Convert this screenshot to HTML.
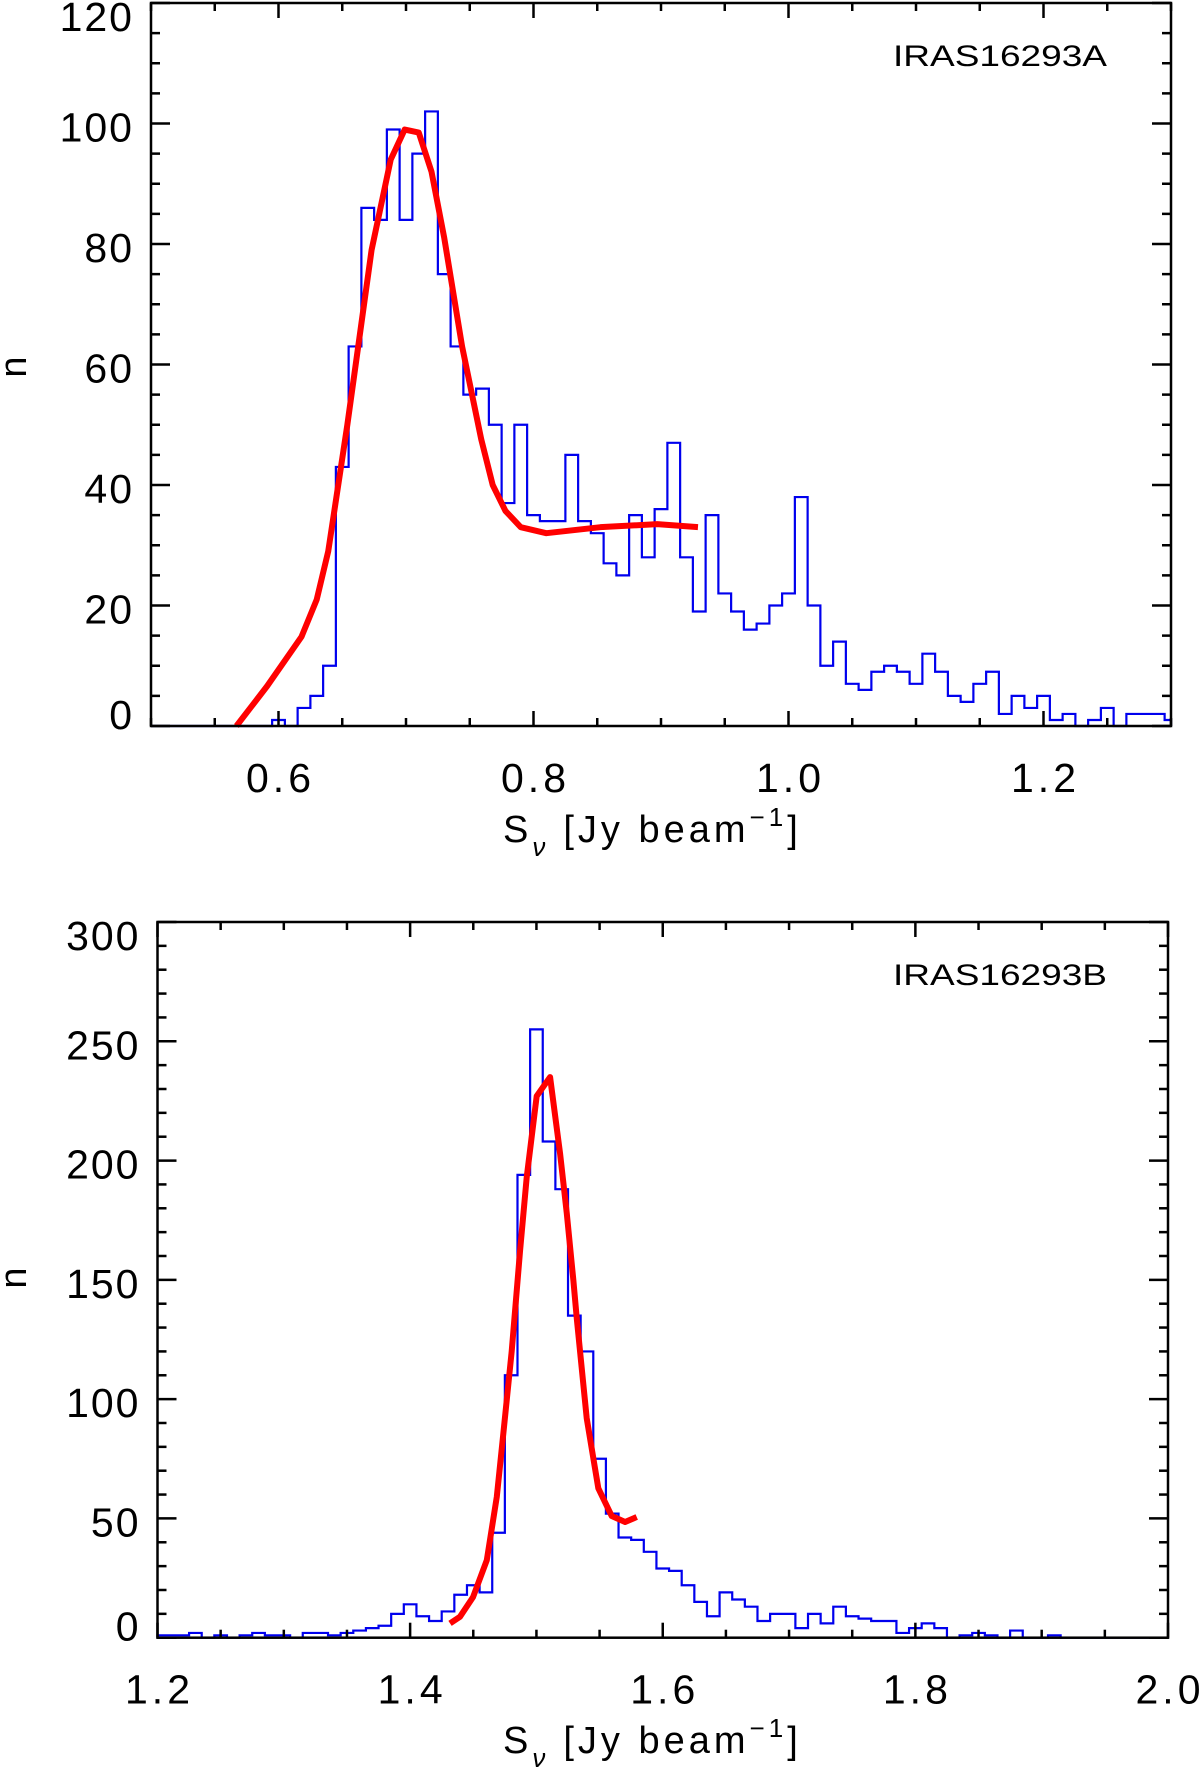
<!DOCTYPE html>
<html><head><meta charset="utf-8"><style>
html,body{margin:0;padding:0;background:#fff;}
svg{display:block;font-family:"Liberation Sans",sans-serif;}
</style></head><body>
<svg id="chart" width="1200" height="1773" viewBox="0 0 1200 1773" xmlns="http://www.w3.org/2000/svg"></svg>
<script>
// ---- Panel A data ----
const aBinStart = 0.60;
const aBinWidth = 0.01;
const aCounts = [1,0,3,5,10,43,63,86,84,99,84,95,102,75,63,55,56,50,37,50,35,34,34,45,34,32,27,25,35,28,36,47,28,19,35,22,19,16,17,20,22,38,20,10,14,7,6,9,10,9,7,12,9,5,4,7,9,2,5,3,5,1,2,0,1,3,0,2,2,2,1];
const aFitX = [0.567,0.591,0.618,0.630,0.639,0.654,0.673,0.688,0.699,0.710,0.720,0.730,0.744,0.759,0.768,0.778,0.790,0.810,0.8525,0.897,0.929];
const aFitY = [0,6.6,14.8,21,29,50,79,94,99,98.5,92,81,63,47.6,40,35.7,33,32,33,33.5,33];
const aXTicks = [0.6,0.8,1.0,1.2];
const aXTickLabels = ["0.6","0.8","1.0","1.2"];
const aYTicks = [0,20,40,60,80,100,120];
const aYTickLabels = ["0","20","40","60","80","100","120"];
// ---- Panel B data ----
const bBinStart = 1.20;
const bBinWidth = 0.01;
const bCounts = [1,1,1,2,0,1,0,1,2,1,1,0,2,2,1,2,3,4,5,10,14,9,7,11,18,22,19,44,110,194,255,208,188,135,120,75,52,42,41,36,29,28,22,15,9,19,16,13,7,10,10,4,10,6,13,9,8,7,7,2,4,6,4,0,1,2,1,0,3,0,0,1,0,0,0,0,0,0,0,0,0];
const bFitX = [1.4316,1.4395,1.4498,1.4607,1.4686,1.4738,1.4804,1.487,1.4923,1.5002,1.5108,1.5187,1.524,1.5292,1.5319,1.5398,1.549,1.5596,1.5702,1.5794];
const bFitY = [6,8.8,17,32.5,59,85.6,120,162,193,227,235,203,178,150,134,92,62.6,51,48.5,50.6];
const bXTicks = [1.2,1.4,1.6,1.8,2.0];
const bXTickLabels = ["1.2","1.4","1.6","1.8","2.0"];
const bYTicks = [0,50,100,150,200,250,300];
const bYTickLabels = ["0","50","100","150","200","250","300"];

const NS="http://www.w3.org/2000/svg";
const svg=document.getElementById('chart');
function mk(tag,attrs,parent){const e=document.createElementNS(NS,tag);for(const k in attrs)e.setAttribute(k,attrs[k]);(parent||svg).appendChild(e);return e;}

function panel(o){
  const g=mk('g',{});
  
  
  const sx=v=>o.L+(v-o.x0)/(o.x1-o.x0)*(o.R-o.L);
  const sy=v=>o.B-(v-o.y0)/(o.y1-o.y0)*(o.B-o.T);
  // histogram
  let d='M'+o.L+','+o.B;
  let first=true;
  for(let i=0;i<o.counts.length;i++){
    let a=o.binStart+(i-0.5)*o.binWidth, b=o.binStart+(i+0.5)*o.binWidth;
    a=Math.max(a,o.x0); b=Math.min(b,o.x1);
    if(b<=a)continue;
    const y=sy(o.counts[i]);
    if(first){d+=' L'+sx(a).toFixed(2)+','+o.B;first=false;}
    d+=' L'+sx(a).toFixed(2)+','+y.toFixed(2)+' L'+sx(b).toFixed(2)+','+y.toFixed(2);
  }
  d+=' L'+o.R+','+o.B;
  const h=mk('path',{d:d,fill:'none',stroke:'#0000ee','stroke-width':2.2},g);
  
  
  // fit
  let fd='';
  for(let i=0;i<o.fitX.length;i++){fd+=(i?' L':'M')+sx(o.fitX[i]).toFixed(2)+','+sy(o.fitY[i]).toFixed(2);}
  const f=mk('path',{d:fd,fill:'none',stroke:'#ff0000','stroke-width':6,'stroke-linejoin':'round'},g);
  
  
  // frame
  const fr=mk('rect',{x:o.L,y:o.T,width:o.R-o.L,height:o.B-o.T,fill:'none',stroke:'#000','stroke-width':2.5},g);
  
  
  // x ticks
  const xt=mk('g',{stroke:'#000','stroke-width':2.5},g);
  
  
  const nx=Math.round((o.x1-o.x0)/o.xMinor);
  for(let k=0;k<=nx;k++){
    const v=o.x0+k*o.xMinor, X=sx(v);
    const major=o.xTicks.some(t=>Math.abs(t-v)<1e-6);
    const len=major?15:8;
    mk('line',{x1:X,y1:o.B,x2:X,y2:o.B-len},xt);
    mk('line',{x1:X,y1:o.T,x2:X,y2:o.T+len},xt);
  }
  const yt=mk('g',{stroke:'#000','stroke-width':2.5},g);
  
  
  const ny=Math.round((o.y1-o.y0)/o.yMinor);
  for(let k=0;k<=ny;k++){
    const v=o.y0+k*o.yMinor, Y=sy(v);
    const major=o.yTicks.some(t=>Math.abs(t-v)<1e-6);
    const len=major?19:9;
    mk('line',{x1:o.L,y1:Y,x2:o.L+len,y2:Y},yt);
    mk('line',{x1:o.R,y1:Y,x2:o.R-len,y2:Y},yt);
  }
  // x labels
  o.xTicks.forEach((t,i)=>{
    const tx=mk('text',{x:sx(t)+2,y:o.B+66,'font-size':41,'text-anchor':'middle','letter-spacing':4,fill:'#000'},g);
    tx.textContent=o.xLabels[i];
    
    
  });
  o.yTicks.forEach((t,i)=>{
    let cy=sy(t)+3;
    if(i===0)cy=sy(t)-12;
    if(i===o.yTicks.length-1)cy=sy(t)+13;
    const tx=mk('text',{x:o.L-17,y:cy+15,'font-size':41,'text-anchor':'end','letter-spacing':2,fill:'#000'},g);
    tx.textContent=o.yLabels[i];
    
    
  });
  // y title
  const ytl=mk('text',{x:0,y:0,'font-size':38,'text-anchor':'middle',fill:'#000',transform:'translate(26,'+o.nY+') rotate(-90)'},g);
  ytl.textContent='n';
  
  
  // x title
  const xtl=mk('text',{x:503,y:o.titleY,'font-size':38,'letter-spacing':4,fill:'#000'},g);
  
  
  const s1=mk('tspan',{},xtl); s1.textContent='S';
  const s2=mk('tspan',{'font-size':26,dy:14,'font-style':'italic'},xtl); s2.textContent='ν';
  const s3=mk('tspan',{dy:-14,dx:14},xtl); s3.textContent='[Jy beam';
  const s4=mk('tspan',{'font-size':26,dy:-16},xtl); s4.textContent='−1';
  const s5=mk('tspan',{dy:16},xtl); s5.textContent=']';
  // source label
  const lb=mk('text',{x:893,y:o.labY,'font-size':30,fill:'#000',textLength:214,lengthAdjust:'spacingAndGlyphs'},g);
  lb.textContent=o.label;
  
  
}

panel({name:'panel-iras16293a',L:151,R:1171,T:3,B:726,x0:0.5,x1:1.3,y0:0,y1:120,xMinor:0.05,yMinor:5,
  counts:aCounts,binStart:aBinStart,binWidth:aBinWidth,fitX:aFitX,fitY:aFitY,
  xTicks:aXTicks,xLabels:aXTickLabels,yTicks:aYTicks,yLabels:aYTickLabels,
  nY:367,titleY:842,labY:66,label:'IRAS16293A'});
panel({name:'panel-iras16293b',L:157.5,R:1168,T:922,B:1637.7,x0:1.2,x1:2.0,y0:0,y1:300,xMinor:0.05,yMinor:10,
  counts:bCounts,binStart:bBinStart,binWidth:bBinWidth,fitX:bFitX,fitY:bFitY,
  xTicks:bXTicks,xLabels:bXTickLabels,yTicks:bYTicks,yLabels:bYTickLabels,
  nY:1278,titleY:1753,labY:985,label:'IRAS16293B'});
</script>
</body></html>
